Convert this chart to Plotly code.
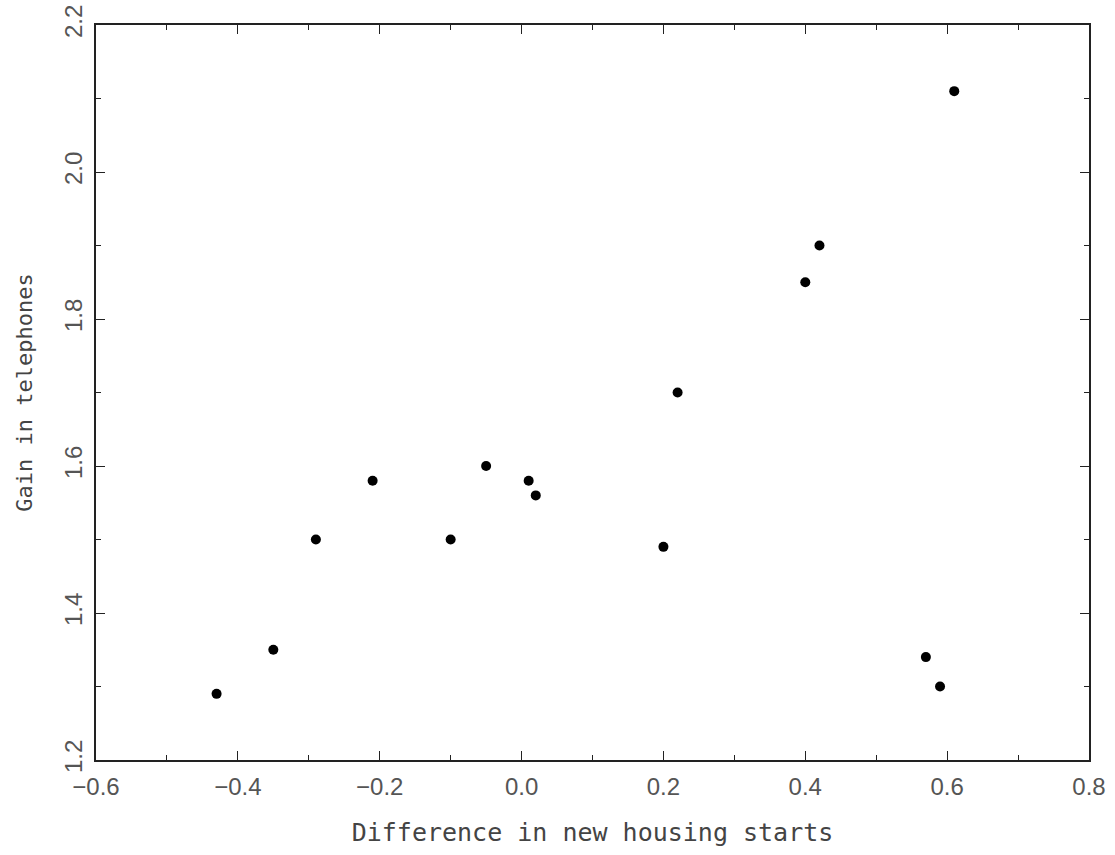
import plotly.graph_objects as go

housing_diff = [-0.43, -0.35, -0.29, -0.21, -0.10, -0.05, 0.01, 0.02, 0.20, 0.22, 0.40, 0.42, 0.61, 0.57, 0.59]
phone_gain = [1.29, 1.35, 1.50, 1.58, 1.50, 1.60, 1.58, 1.56, 1.49, 1.70, 1.85, 1.90, 2.11, 1.34, 1.30]

x_ticks = [-0.6, -0.4, -0.2, 0.0, 0.2, 0.4, 0.6, 0.8]
y_ticks = [1.2, 1.4, 1.6, 1.8, 2.0, 2.2]

fig = go.Figure(go.Scatter(
    x=housing_diff, y=phone_gain, mode="markers",
    marker=dict(size=10, color="black"),
))

tick_font = dict(family="Liberation Sans", size=24, color="#555")
axis_common = dict(
    showline=True, linecolor="#222", linewidth=2, mirror="ticks",
    ticks="inside", ticklen=9, tickwidth=1.2, tickcolor="#222",
    showgrid=False, zeroline=False, tickfont=tick_font, automargin=False,
)

fig.update_layout(
    width=1115, height=855,
    margin=dict(l=96, r=26, t=25, b=95),
    paper_bgcolor="white", plot_bgcolor="white",
    showlegend=False,
    xaxis=dict(
        range=[-0.6, 0.8], tickvals=x_ticks,
        ticktext=[f"{v:.1f}".replace("-", "\u2212") for v in x_ticks],
        minor=dict(dtick=0.1, tick0=0, ticks="inside", ticklen=5, tickcolor="#222", tickwidth=1.2),
        title=dict(text="Difference in new housing starts",
                   font=dict(family="DejaVu Sans Mono", size=25, color="#444"), standoff=25),
        ticklabelstandoff=4,
        **axis_common,
    ),
    yaxis=dict(
        range=[1.2, 2.2], tickvals=y_ticks,
        ticktext=[f"{v:.1f}" for v in y_ticks],
        tickangle=-90,
        minor=dict(dtick=0.1, tick0=0, ticks="inside", ticklen=5, tickcolor="#222", tickwidth=1.2),
        title=dict(text="Gain in telephones",
                   font=dict(family="DejaVu Sans Mono", size=22, color="#444"), standoff=22),
        ticklabelstandoff=2,
        **axis_common,
    ),
)

fig.write_html("out.html")
